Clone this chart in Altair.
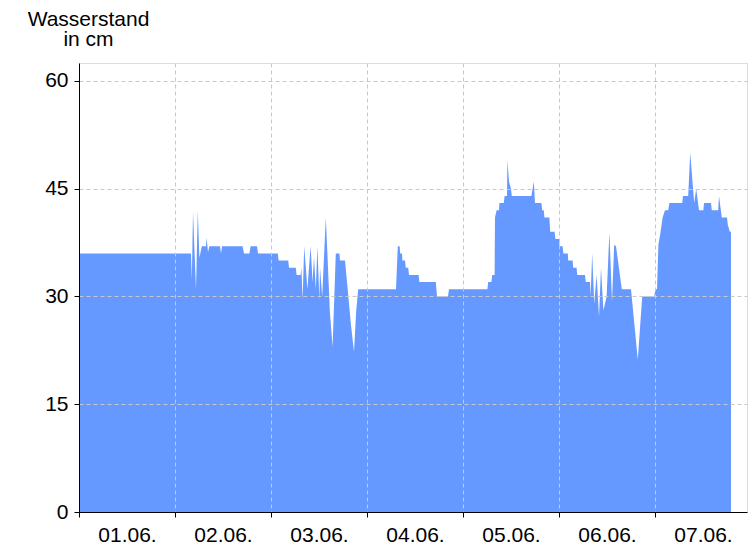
import altair as alt
import pandas as pd

# hours since 01.06. 00:00
hours = [0, 28.0, 28.2, 28.5, 29.25, 29.7, 30.1, 30.7, 31.75, 31.9, 32.25, 32.6,
         35.25, 35.5, 35.75, 40.9, 41.25, 42.6, 42.9, 44.5, 44.75, 49.7, 49.9,
         52.3, 52.5, 54.2, 54.4, 55.4, 55.6, 55.9, 56.3, 57.1, 57.9, 58.4, 58.75,
         59.2, 59.6, 60.1, 60.25, 60.8, 61.7, 62.1, 62.7, 63.4, 64.2, 65.1, 65.25,
         66.5, 67.0, 68.0, 68.75, 69.3, 69.8,
         79.25, 79.7, 80.15, 80.3, 80.75, 80.85, 81.5, 81.7, 82.3, 82.5, 84.9, 85.1,
         89.2, 89.5, 92.25, 92.5, 102.1, 102.3, 103.1, 103.3, 103.9, 104.0, 104.4,
         105.0, 105.1, 106.2, 106.4, 107.0, 107.1, 107.5, 108.0, 108.2, 113.1,
         113.7, 114.0, 115.6, 115.8, 116.2, 116.35, 117.6, 117.8, 118.9, 119.1,
         120.0, 120.15, 120.9, 121.1, 122.2, 122.3, 123.4, 123.55, 124.4, 124.55,
         126.5, 126.7, 127.75, 127.9, 128.3, 128.8, 129.4, 130.0, 130.5, 131.1,
         131.5, 131.9, 132.6, 133.25, 133.8, 134.25, 135.7, 138.0, 139.7, 140.8,
         143.8, 144.1, 144.5, 144.85, 145.4, 145.9, 146.5, 147.3, 147.6, 150.8,
         151.0, 152.3, 152.8, 153.8, 154.3, 155.0, 156.1, 156.25, 158.0, 158.2,
         159.8, 160.0, 160.7, 162.0, 162.2, 162.7, 163.0]
level = [36, 36, 32.3, 41.8, 31, 42, 35.4, 37, 37, 38.2, 36.2, 37,
         37, 36, 37, 37, 36, 36, 37, 37, 36, 36, 35,
         35, 34, 34, 33, 33, 34, 29.5, 37, 31, 37, 32, 35.5,
         31, 37, 29.5, 34, 30, 41, 36, 28, 23, 36, 36, 35,
         35, 32, 26, 22.3, 28, 31,
         31, 37, 37, 36, 36, 35, 35, 34, 34, 33, 33, 32,
         32, 30, 30, 31, 31, 32, 32, 33, 33, 41, 42,
         42, 43, 43, 44, 44, 49, 46, 45, 44, 44,
         46, 43, 43, 42, 42, 41, 41, 39, 39, 38,
         38, 37, 37, 36, 36, 35, 35, 34, 34, 33,
         33, 32, 32, 30, 36, 29, 33, 27.2, 34, 28.1,
         29, 30, 38.9, 29.3, 37.2, 37, 31, 31, 21.2, 30,
         30, 31, 31, 37.2, 39, 41, 42, 42, 43, 43,
         44, 44, 50, 43, 45, 42, 42, 43, 43, 42,
         42, 44, 41, 41, 40, 39, 39]

day_ticks = [0, 24, 48, 72, 96, 120, 144]
y_ticks = [0, 15, 30, 45, 60]

df = pd.DataFrame({"h": hours, "v": level})

FONT = "Liberation Sans"

chart = alt.Chart(df).mark_area(color="#6699FF", interpolate="linear").encode(
    x=alt.X("h:Q",
            scale=alt.Scale(domain=[0, 167], nice=False, zero=False),
            axis=alt.Axis(values=day_ticks, title=None,
                          labelExpr="'0' + (floor(datum.value / 24) + 1) + '.06.'",
                          labelOffset=48, labelFlush=False, labelOverlap=False,
                          labelBound=False, tickSize=5, labelPadding=7,
                          grid=True, gridColor="#c8c8c8", gridDash=[4, 3],
                          domainColor="black", tickColor="black",
                          labelFont=FONT, labelFontSize=21, labelColor="black",
                          zindex=1)),
    y=alt.Y("v:Q",
            scale=alt.Scale(domain=[0, 62.5], nice=False),
            axis=alt.Axis(values=y_ticks, title=["Wasserstand", "in cm"],
                          titleAngle=0, titleAlign="center", titleBaseline="alphabetic",
                          titleX=9, titleY=-38, titleLineHeight=20,
                          titleFont=FONT, titleFontSize=21, titleFontWeight="normal",
                          titleColor="black",
                          tickSize=5, labelPadding=6,
                          grid=True, gridColor="#c8c8c8", gridDash=[4, 3],
                          domainColor="black", tickColor="black",
                          labelFont=FONT, labelFontSize=21, labelColor="black",
                          zindex=1)),
).properties(
    width=668, height=449,
    autosize=alt.AutoSizeParams(type="none"),
    padding={"left": 71, "top": 55, "right": 1, "bottom": 34},
).configure_view(stroke="black", strokeWidth=1).configure(background="white")

chart.save("out.html", embed_options={"renderer": "svg", "actions": False})
